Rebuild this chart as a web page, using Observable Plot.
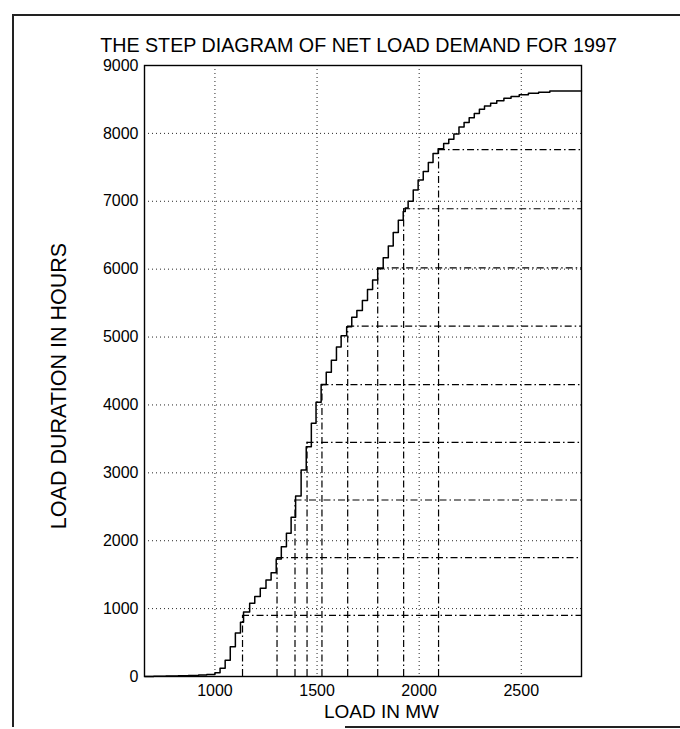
<!DOCTYPE html>
<html>
<head>
<meta charset="utf-8">
<script src="https://cdn.jsdelivr.net/npm/d3@7"></script>
<script src="https://cdn.jsdelivr.net/npm/@observablehq/plot@0.6"></script>
<style>
  html, body { margin: 0; padding: 0; background: #fff; }
  #wrap { position: relative; width: 680px; height: 729px; overflow: hidden; background: #fff; }
  #chart { position: absolute; left: 0; top: 0; }
  .edge { position: absolute; background: #222; }
</style>
</head>
<body>
<div id="wrap">
  <div id="chart"></div>
  <div class="edge" style="left:12px;top:14px;width:668px;height:1.5px;"></div>
  <div class="edge" style="left:12px;top:14px;width:1.5px;height:713px;"></div>
  <div class="edge" style="left:345px;top:726px;width:335px;height:1.5px;"></div>
</div>
<script>
// Step curve: load (MW) at which each step begins, and duration (hours) after the step
const loadMW = [656, 700, 760, 820, 870, 920, 960,
  1000, 1025, 1050, 1075, 1100, 1125, 1140, 1170, 1195,
  1222, 1250, 1275, 1300, 1325, 1350, 1373, 1395,
  1422, 1447, 1472, 1495, 1520, 1545, 1570, 1595, 1618, 1645,
  1670, 1695, 1722, 1747, 1772, 1797, 1824, 1849, 1873, 1898,
  1922, 1932, 1946, 1971, 1995, 2020, 2045, 2068, 2093,
  2120, 2145, 2170, 2195, 2220, 2245, 2270, 2295, 2320, 2350,
  2380, 2415, 2450, 2490, 2535, 2585, 2640, 2795];
const durationHours = [0, 3, 6, 10, 15, 22, 30,
  55, 120, 240, 440, 640, 800, 950, 1080, 1180,
  1300, 1420, 1530, 1730, 1910, 2110, 2345, 2660,
  3040, 3385, 3730, 4040, 4300, 4480, 4660, 4855, 5020, 5150,
  5290, 5390, 5540, 5700, 5840, 6005, 6170, 6340, 6540, 6720,
  6850, 6900, 7000, 7165, 7315, 7440, 7570, 7705, 7775,
  7850, 7915, 7990, 8095, 8160, 8230, 8292, 8355, 8405, 8445,
  8480, 8517, 8542, 8568, 8590, 8605, 8625, 8625];

// Block boundaries (dash-dot lines)
const blockLoadMW = [1135, 1304, 1392, 1451, 1524, 1650, 1797, 1924, 2095];
const blockHours = [900, 1750, 2600, 3450, 4300, 5160, 6020, 6890, 7760];

const xDomain = [655, 2795];
const yDomain = [0, 9000];
const xTicks = [1000, 1500, 2000, 2500];
const yTicks = [0, 1000, 2000, 3000, 4000, 5000, 6000, 7000, 8000, 9000];

const titleText = "THE STEP DIAGRAM OF NET LOAD DEMAND FOR 1997";
const xLabel = "LOAD IN MW";
const yLabel = "LOAD DURATION IN HOURS";

const curve = loadMW.map((x, i) => ({x, y: durationHours[i]}));
const blocks = blockLoadMW.map((x, i) => ({x, y: blockHours[i]}));

const font = "'Liberation Sans', Arial, Helvetica, sans-serif";

const chart = Plot.plot({
  width: 680,
  height: 729,
  marginLeft: 144,
  marginRight: 99,
  marginTop: 65,
  marginBottom: 53,
  style: {fontFamily: font, fontSize: "16px", color: "#000", background: "transparent", overflow: "visible"},
  x: {domain: xDomain},
  y: {domain: yDomain},
  marks: [
    Plot.gridX(xTicks, {stroke: "#000", strokeOpacity: 0.85, strokeWidth: 1, strokeDasharray: "1,3"}),
    Plot.gridY(yTicks.slice(1, -1), {stroke: "#000", strokeOpacity: 0.85, strokeWidth: 1, strokeDasharray: "1,3"}),
    Plot.ruleY(blocks, {y: "y", x1: "x", x2: xDomain[1], stroke: "#000", strokeWidth: 1.2, strokeDasharray: "7,3,1.5,3"}),
    Plot.ruleX(blocks, {x: "x", y1: 0, y2: "y", stroke: "#000", strokeWidth: 1.2, strokeDasharray: "7,3,1.5,3"}),
    Plot.line(curve, {x: "x", y: "y", curve: "step-after", stroke: "#000", strokeWidth: 1.5}),
    Plot.frame({stroke: "#000", strokeWidth: 1.4}),
    Plot.axisX(xTicks, {tickSize: 0, tickPadding: 8, label: null, tickFormat: d => String(d), fontSize: 16}),
    Plot.axisY(yTicks, {tickSize: 0, tickPadding: 6, label: null, tickFormat: d => String(d), fontSize: 16}),
    Plot.text([titleText], {text: d => d, frameAnchor: "top", textAnchor: "middle", dx: -4.5, dy: -14, lineAnchor: "bottom", fontSize: 19.7, fill: "#000"}),
    Plot.text([xLabel], {text: d => d, frameAnchor: "bottom", textAnchor: "middle", dx: 18.5, dy: 41, lineAnchor: "bottom", fontSize: 19, fill: "#000"}),
    Plot.text([yLabel], {text: d => d, frameAnchor: "left", textAnchor: "middle", rotate: -90, dx: -79, dy: 15, lineAnchor: "bottom", fontSize: 21.5, fill: "#000"})
  ]
});
document.getElementById("chart").appendChild(chart);
</script>
</body>
</html>
